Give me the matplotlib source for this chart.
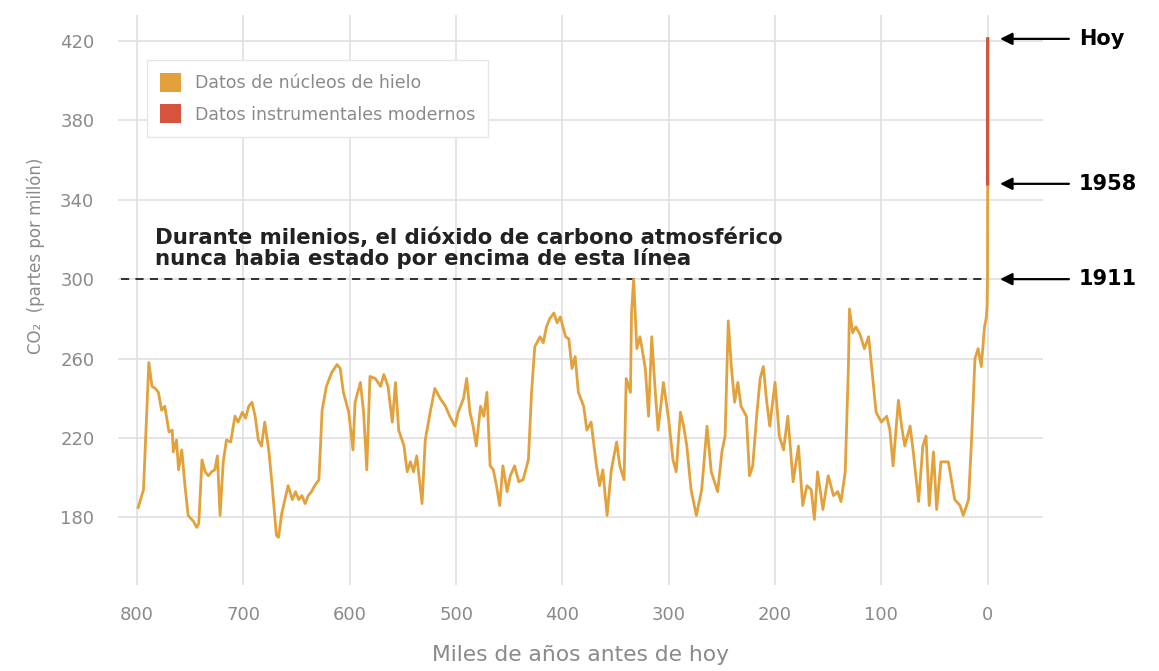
import matplotlib
matplotlib.use("Agg")
import matplotlib.pyplot as plt
from matplotlib.patches import Patch

# ice core record, thousands of years before today vs CO2 ppm
ice_kyr = [799, 794, 789, 786, 783, 780, 777, 774, 770, 767, 766, 763, 761, 758, 755, 752,
           747, 744, 742, 739, 736, 733, 730, 727, 724.5, 722, 719, 716, 712, 708, 705, 701,
           698, 695, 692, 689, 686, 683, 680, 676, 673, 669, 667, 664, 661, 658, 654, 651,
           648, 645, 642, 639, 636, 633, 629, 626, 622, 617, 612, 609, 606, 601, 597, 595,
           590, 587, 584, 581, 576, 571, 568, 564, 560, 557, 554, 549, 546, 543, 540, 537,
           532, 529, 524, 520, 515, 510, 506, 501, 498, 493, 490, 487, 484, 481, 477, 474,
           471, 468, 465, 462, 459, 456, 452, 449, 445, 441, 437, 432, 429, 426, 421, 418,
           415, 412, 408, 405, 402, 397, 394, 391, 388, 385, 380, 377, 373, 368, 365, 362,
           358, 354, 349, 346, 342, 340, 336, 335, 333, 330, 327, 322, 319, 316, 313, 310,
           305, 300, 296, 293, 289, 286, 283, 279, 274, 269, 264, 260, 257, 254, 250, 247,
           244, 241, 238, 235, 232, 227, 224, 221, 217, 214, 211, 208, 205, 200, 196, 192,
           188, 183, 178, 174, 170, 166, 163, 160, 155, 150, 145, 141, 138, 134, 131, 130,
           127, 124, 120, 116, 112, 109, 105, 100, 95, 92, 89, 84, 81, 78, 73, 70,
           65, 61, 58, 55, 51, 48, 44, 37, 31, 26, 23, 18, 15, 12, 9, 6,
           3, 1.5, 0.6, 0.2, 0.05]
ice_co2 = [185, 194, 258, 246, 245, 243, 234, 236, 223, 224, 213, 219, 204, 214, 196, 181,
           178, 175, 177, 209, 203, 201, 203, 204, 211, 181, 208, 219, 218, 231, 228, 233,
           230, 236, 238, 231, 219, 216, 228, 213, 196, 171, 170, 182, 189, 196, 189, 193,
           189, 191, 187, 191, 193, 196, 199, 234, 246, 253, 257, 255, 243, 233, 214, 238,
           248, 233, 204, 251, 250, 246, 252, 246, 228, 248, 224, 216, 203, 208, 203, 211,
           187, 219, 234, 245, 240, 236, 231, 226, 233, 240, 250, 233, 226, 216, 236, 231,
           243, 206, 204, 196, 186, 206, 193, 201, 206, 198, 199, 209, 243, 266, 271, 268,
           276, 280, 283, 278, 281, 271, 270, 255, 261, 243, 236, 224, 228, 206, 196, 204,
           181, 204, 218, 206, 199, 250, 243, 283, 300, 265, 271, 255, 231, 271, 246, 224,
           248, 229, 209, 203, 233, 226, 216, 194, 181, 194, 226, 203, 198, 193, 213, 221,
           279, 255, 238, 248, 236, 231, 201, 206, 233, 250, 256, 239, 226, 248, 221, 214,
           231, 198, 216, 186, 196, 194, 179, 203, 184, 201, 191, 193, 188, 203, 256, 285,
           273, 276, 272, 265, 271, 255, 233, 228, 231, 224, 206, 239, 226, 216, 226, 213,
           188, 216, 221, 186, 213, 184, 208, 208, 189, 186, 181, 189, 221, 260, 265, 256,
           276, 280, 286, 300, 348]

# modern instrumental record (1958 -> today), plotted at ~0 kyr
modern_kyr = [0.05, 0.0]
modern_co2 = [348, 421]

x_ticks = [800, 700, 600, 500, 400, 300, 200, 100, 0]
y_ticks = [180, 220, 260, 300, 340, 380, 420]

marks = [("Hoy", 421), ("1958", 348), ("1911", 300)]

ice_color = "#E2A13B"
modern_color = "#D6533D"
grey_txt = "#8a8a8a"

plt.rcParams['font.family'] = ['DejaVu Sans']

fig = plt.figure(figsize=(11.59, 6.71), dpi=100)
ax = fig.add_axes([0.1018, 0.1282, 0.7981, 0.8494])

ax.plot(ice_kyr, ice_co2, color=ice_color, linewidth=2.0, solid_joinstyle='round', zorder=3)
ax.plot(modern_kyr, modern_co2, color=modern_color, linewidth=2.4, zorder=4)

ax.plot([815, 0], [300, 300], color="#222222", linestyle=(0, (4.5, 3.5)), linewidth=1.3, zorder=2)

ax.set_xlim(818, -52)
ax.set_ylim(146, 433)
ax.set_xticks(x_ticks)
ax.set_yticks(y_ticks)
ax.grid(True, color="#e0e0e0", linewidth=1.2)
ax.set_axisbelow(True)
for s in ax.spines.values():
    s.set_visible(False)
ax.tick_params(length=0, labelcolor=grey_txt, labelsize=13)
ax.tick_params(axis='x', pad=15)
ax.tick_params(axis='y', pad=17)

ax.set_xlabel("Miles de años antes de hoy", color=grey_txt, fontsize=15.7, labelpad=15)
fig.text(36 / 1159, 1 - 256 / 671, "CO₂  (partes por millón)", rotation=90,
         color=grey_txt, fontsize=12, ha='center', va='center')

ax.text(783, 315.5, "Durante milenios, el dióxido de carbono atmosférico\nnunca habia estado por encima de esta línea",
        fontsize=15.3, fontweight='bold', color="#222222", linespacing=0.98, va='center', ha='left')

for label, val in marks:
    ax.annotate("", xy=(-9, val), xytext=(-79, val), annotation_clip=False,
                arrowprops=dict(arrowstyle='-|>', color='black', lw=1.6, mutation_scale=18))
    ax.text(-86, val, label, fontsize=15, fontweight='bold', color='black',
            va='center', ha='left', clip_on=False)

handles = [Patch(facecolor=ice_color, edgecolor='none'),
           Patch(facecolor=modern_color, edgecolor='none')]
leg = ax.legend(handles, ["Datos de núcleos de hielo", "Datos instrumentales modernos"],
                loc='upper left', bbox_to_anchor=(147 / 1159, 1 - 60 / 671),
                bbox_transform=fig.transFigure, borderaxespad=0, fontsize=12.5,
                handlelength=1.2, handleheight=1.3, labelspacing=0.7, borderpad=0.75,
                handletextpad=0.8, fancybox=False, framealpha=1, edgecolor="#e6e6e6")
for t in leg.get_texts():
    t.set_color(grey_txt)

fig.savefig("out.png", dpi=100)
